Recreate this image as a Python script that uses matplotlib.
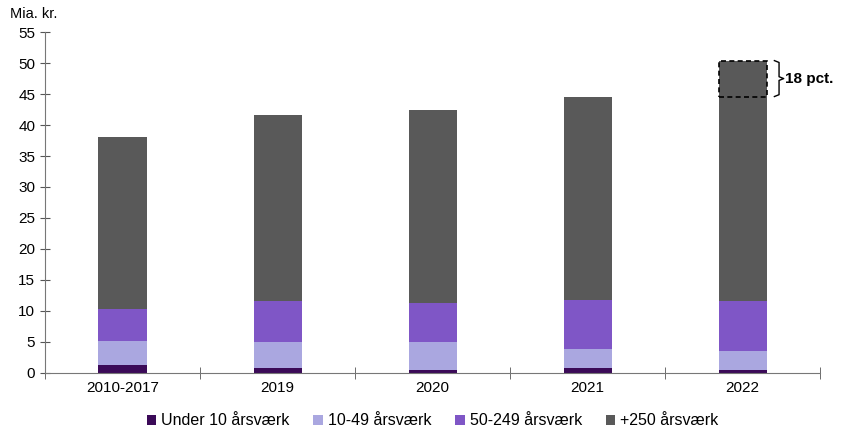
import matplotlib.pyplot as plt
from matplotlib.patches import Rectangle

plt.rcParams['font.family'] = ['Liberation Sans', 'DejaVu Sans']

categories = ['2010-2017', '2019', '2020', '2021', '2022']
under10 = [1.2, 0.7, 0.5, 0.8, 0.4]
s10_49 = [4.0, 4.2, 4.4, 3.1, 3.1]
s50_249 = [5.1, 6.7, 6.3, 7.8, 8.1]
total = [38.0, 41.6, 42.5, 44.6, 50.4]
labels = ['Under 10 årsværk', '10-49 årsværk', '50-249 årsværk', '+250 årsværk']
colors = ['#3b0a58', '#aaa7e0', '#7f56c6', '#595959']

s250 = [t - a - b - c for t, a, b, c in zip(total, under10, s10_49, s50_249)]
series = [under10, s10_49, s50_249, s250]

fig = plt.figure(figsize=(8.49, 4.34), dpi=100)
ax = fig.add_axes([0.053, 0.141, 0.913, 0.785])

x = list(range(len(categories)))
w = 0.31
bottom = [0] * len(x)
for vals, col, lab in zip(series, colors, labels):
    ax.bar(x, vals, w, bottom=bottom, color=col, label=lab, linewidth=0)
    bottom = [b + v for b, v in zip(bottom, vals)]

# stiplet boks: vækst fra 2021 til 2022
i = len(x) - 1
ax.add_patch(Rectangle((i - w / 2, total[i - 1]), w, total[i] - total[i - 1],
                       fill=False, edgecolor='black', linestyle=(0, (3, 2)),
                       linewidth=1.2, zorder=3))
bx = i + w / 2 + 0.05
lo, hi = total[i - 1], total[i]
mid = (lo + hi) / 2
ax.plot([bx, bx + 0.03, bx + 0.03, bx + 0.06, bx + 0.03, bx + 0.03, bx],
        [hi, hi - 0.3, mid + 0.3, mid, mid - 0.3, lo + 0.3, lo],
        color='black', linewidth=1, clip_on=False)
ax.text(bx + 0.07, mid, '18 pct.', fontweight='bold', fontsize=11,
        va='center', ha='left')

ax.set_xlim(-0.5, len(x) - 0.5)
ax.set_ylim(0, 55)
ax.set_yticks(range(0, 56, 5))
ax.set_xticks(x)
ax.set_xticklabels(categories)
ax.set_xticks([k + 0.5 for k in range(-1, len(x))], minor=True)
ax.tick_params(axis='x', which='major', length=0, labelsize=11, pad=6)
ax.tick_params(axis='x', which='minor', length=8, direction='inout', color='#555555')
ax.tick_params(axis='y', length=7, direction='inout', labelsize=11, color='#555555')

for s in ['top', 'right']:
    ax.spines[s].set_visible(False)
for s in ['left', 'bottom']:
    ax.spines[s].set_color('#777777')

fig.text(0.012, 0.967, 'Mia. kr.', fontsize=10.5, va='center')

ax.legend(loc='upper center', bbox_to_anchor=(0.5, -0.10), ncol=4,
          frameon=False, fontsize=11.5, handlelength=0.6, handleheight=0.6,
          handletextpad=0.3, columnspacing=1.5, borderaxespad=0)

fig.savefig('out.png', dpi=100)
